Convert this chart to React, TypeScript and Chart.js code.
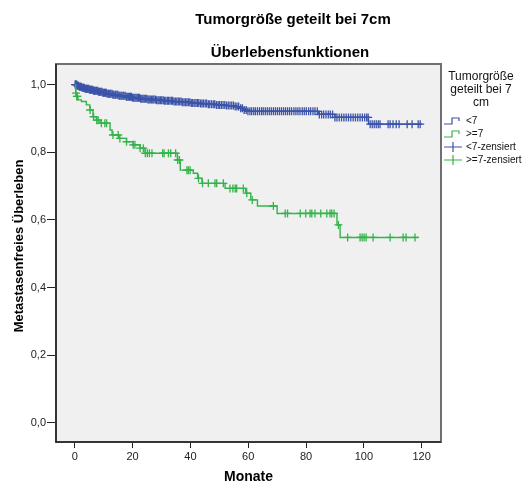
import React, { useEffect, useRef } from "react";
import { Chart, registerables } from "chart.js";

Chart.register(...registerables);

// ---- Data ----
const xTicks = [0, 20, 40, 60, 80, 100, 120];
const yTicks = [0, 0.2, 0.4, 0.6, 0.8, 1.0];

// Group "<7": event times and survival after each event
const blueTimes = [0, 0.8, 1.5, 2.5, 3.5, 5, 6.5, 8, 9.5, 11, 13, 15, 17.5, 20, 22.5, 25, 28, 31, 34, 37, 40, 43, 46, 49, 52, 55, 57, 58.5, 59.5, 84.3, 90, 101.6, 120];
const blueSurv = [1.0, 0.997, 0.994, 0.991, 0.988, 0.985, 0.982, 0.979, 0.976, 0.973, 0.97, 0.967, 0.964, 0.961, 0.958, 0.956, 0.954, 0.952, 0.95, 0.948, 0.946, 0.944, 0.942, 0.94, 0.938, 0.935, 0.93, 0.925, 0.921, 0.912, 0.903, 0.883, 0.883];
const blueCensored = [
  0.1, 0.3, 0.5, 0.7, 0.9, 1.1, 1.3, 1.6, 1.8, 2.0, 2.3, 2.5, 2.8, 3.0, 3.3, 3.5, 3.8, 4.1, 4.3, 4.6, 4.9, 5.1, 5.4, 5.7, 5.9, 6.2, 6.5, 6.8, 7.0, 7.3, 7.6, 7.9, 8.2, 8.5, 8.8, 9.1, 9.4, 9.7,
  10.0, 10.3, 10.6, 10.9, 11.2, 11.6, 11.9, 12.2, 12.5, 12.9, 13.2, 13.5, 13.9, 14.2, 14.6, 14.9, 15.3, 15.6, 16.0, 16.3, 16.7, 17.0, 17.4, 17.8, 18.1, 18.5, 18.9, 19.3, 19.6,
  20.0, 20.4, 20.8, 21.2, 21.6, 22.0, 22.4, 22.8, 23.2, 23.6, 24.0, 24.4, 24.9, 25.3, 25.7, 26.1, 26.6, 27.0, 27.4, 27.9, 28.3, 28.8, 29.2, 29.7, 30.1, 30.6, 31.0, 31.5, 32.0, 32.4, 32.9, 33.4, 33.8, 34.3, 34.8, 35.3, 35.8, 36.3, 36.8, 37.3, 37.8, 38.3, 38.8, 39.3, 39.8,
  40.3, 40.8, 41.3, 41.9, 42.4, 42.9, 43.5, 44.0, 44.5, 45.1, 45.6, 46.2, 46.7, 47.3, 47.9, 48.4, 49.0, 49.6, 50.1, 50.7, 51.3, 51.9, 52.5, 53.1, 53.7, 54.3, 54.9, 55.5, 56.1, 56.7, 57.4, 58.0, 58.6, 59.3, 59.9,
  60.6, 61.2, 61.9, 62.5, 63.2, 63.9, 64.6, 65.2, 65.9, 66.6, 67.3, 68.0, 68.7, 69.4, 70.1, 70.8, 71.5, 72.2, 72.9, 73.6, 74.3, 75.0, 75.8, 76.5, 77.2, 77.9, 78.7, 79.4, 80.1, 80.9, 81.6, 82.4, 83.1, 83.9, 84.6, 85.4, 86.1, 86.9, 87.7, 88.4, 89.2, 90.0, 90.7, 91.5, 92.3, 93.1, 93.9, 94.7, 95.5, 96.3, 97.1, 97.9, 98.7, 99.5, 100.3,
  101.0, 101.5, 102.2, 102.9, 103.6, 104.3, 105.0, 105.6, 108.4, 109.1, 110.1, 111.2, 112.2, 115.0, 116.7, 118.8, 119.5,
];

// Group ">=7"
const greenTimes = [0, 0.3, 0.55, 1.1, 2.3, 4, 5.2, 6.3, 7.5, 8.7, 12.2, 12.9, 15.2, 17.9, 20.2, 22.6, 24.3, 35.5, 36.5, 41, 42.5, 44, 52, 59.1, 60.9, 63.2, 70, 90.7, 91.8, 118.9];
const greenSurv = [1.0, 0.975, 0.965, 0.955, 0.95, 0.94, 0.925, 0.905, 0.895, 0.886, 0.866, 0.851, 0.841, 0.831, 0.822, 0.812, 0.797, 0.777, 0.747, 0.738, 0.723, 0.708, 0.693, 0.679, 0.659, 0.641, 0.619, 0.585, 0.548, 0.548];
const greenCensored = [0.4, 0.7, 0.9, 5.3, 6.5, 7.6, 8.1, 9.2, 10.4, 11, 13.2, 15, 15.6, 17.9, 20.2, 20.8, 22.6, 23.7, 24.4, 25.1, 25.8, 26.7, 30.4, 30.9, 32.4, 33.2, 34.9, 35.6, 36.2, 38.8, 39.3, 39.9, 42.8, 44.2, 46.2, 48.5, 49.1, 51.4, 53.7, 54.7, 55.5, 56, 58.3, 59.5, 61.4, 68.7, 72.8, 73.6, 78, 79.9, 81.4, 82, 83.1, 85.1, 87.2, 88.3, 88.9, 89.7, 91.2, 94.4, 98.7, 99.4, 100.1, 100.8, 103.2, 109.1, 113.6, 114.6, 117.7];

const seriesLabels = ["<7", ">=7", "<7-zensiert", ">=7-zensiert"];
const legendTitle = ["Tumorgröße", "geteilt bei 7", "cm"];
const titleLines = ["Tumorgröße geteilt bei 7cm", "Überlebensfunktionen"];
const xTitle = "Monate";
const yTitle = "Metastasenfreies Überleben";

const BLUE = "#3b53a8";
const GREEN = "#33b44a";
const FONT = "'Liberation Sans', Arial, sans-serif";

function survAt(times: number[], surv: number[], t: number) {
  let s = surv[0];
  for (let i = 0; i < times.length; i++) if (times[i] <= t) s = surv[i];
  return s;
}

const decorPlugin = {
  id: "decor",
  beforeDatasetsDraw(chart: any) {
    const { ctx, chartArea: a } = chart;
    ctx.save();
    ctx.fillStyle = "#f0f0f0";
    ctx.fillRect(a.left, a.top, a.right - a.left, a.bottom - a.top);
    ctx.restore();
  },
  afterDraw(chart: any) {
    const { ctx, chartArea: a } = chart;
    ctx.save();
    // frame
    ctx.strokeStyle = "#707070";
    ctx.lineWidth = 2;
    ctx.strokeRect(a.left, a.top, a.right - a.left, a.bottom - a.top);
    ctx.strokeStyle = "#222";
    ctx.lineWidth = 1.5;
    ctx.beginPath();
    ctx.moveTo(a.left, a.top);
    ctx.lineTo(a.left, a.bottom);
    ctx.lineTo(a.right, a.bottom);
    ctx.stroke();

    // titles
    ctx.fillStyle = "#000";
    ctx.textAlign = "center";
    ctx.textBaseline = "middle";
    ctx.font = `bold 15px ${FONT}`;
    ctx.fillText(titleLines[0], 293, 20);
    ctx.fillText(titleLines[1], 290, 53);
    ctx.font = `bold 14px ${FONT}`;
    ctx.fillText(xTitle, (a.left + a.right) / 2, 477);
    ctx.save();
    ctx.translate(19, 246);
    ctx.rotate(-Math.PI / 2);
    ctx.font = `bold 13px ${FONT}`;
    ctx.fillText(yTitle, 0, 0);
    ctx.restore();

    // legend
    ctx.font = `12px ${FONT}`;
    ctx.fillStyle = "#111";
    legendTitle.forEach((t, i) => ctx.fillText(t, 481, 77 + i * 13));
    ctx.textAlign = "left";
    ctx.font = `10px ${FONT}`;
    const colors = [BLUE, GREEN, BLUE, GREEN];
    seriesLabels.forEach((lab, i) => {
      const y = 121 + i * 13;
      ctx.strokeStyle = colors[i];
      ctx.lineWidth = 1.2;
      ctx.beginPath();
      if (i < 2) {
        ctx.moveTo(444, y + 3);
        ctx.lineTo(452, y + 3);
        ctx.lineTo(452, y - 3);
        ctx.lineTo(459, y - 3);
        ctx.lineTo(459, y);
      } else {
        ctx.moveTo(444, y);
        ctx.lineTo(462, y);
        ctx.moveTo(453, y - 5);
        ctx.lineTo(453, y + 5);
      }
      ctx.stroke();
      ctx.fillStyle = "#111";
      ctx.fillText(lab, 466, y);
    });
    ctx.restore();
  },
};

export default function App() {
  const ref = useRef<HTMLCanvasElement>(null);
  useEffect(() => {
    if (!ref.current) return;
    const toPts = (ts: number[], ss: number[]) => ts.map((t, i) => ({ x: t, y: ss[i] }));
    const cens = (c: number[], ts: number[], ss: number[]) => c.map((t) => ({ x: t, y: survAt(ts, ss, t) }));
    const chart = new Chart(ref.current, {
      type: "scatter",
      data: {
        datasets: [
          { label: seriesLabels[1], data: toPts(greenTimes, greenSurv), showLine: true, stepped: "before", borderColor: GREEN, borderWidth: 1.4, pointRadius: 0 } as any,
          { label: seriesLabels[3], data: cens(greenCensored, greenTimes, greenSurv), showLine: false, pointStyle: "cross", pointRadius: 4, borderColor: GREEN, backgroundColor: GREEN, pointBorderWidth: 1.3 } as any,
          { label: seriesLabels[0], data: toPts(blueTimes, blueSurv), showLine: true, stepped: "before", borderColor: BLUE, borderWidth: 1.4, pointRadius: 0 } as any,
          { label: seriesLabels[2], data: cens(blueCensored, blueTimes, blueSurv), showLine: false, pointStyle: "cross", pointRadius: 4, borderColor: BLUE, backgroundColor: BLUE, pointBorderWidth: 1.3 } as any,
        ],
      },
      options: {
        animation: false,
        responsive: false,
        devicePixelRatio: 1,
        layout: { padding: { top: 64, right: 83, left: 0, bottom: 0 } },
        plugins: { legend: { display: false }, tooltip: { enabled: false }, title: { display: false } },
        scales: {
          x: {
            type: "linear",
            min: -6.5,
            max: 126.7,
            afterBuildTicks: (s: any) => { s.ticks = xTicks.map((v) => ({ value: v })); },
            afterFit: (s: any) => { s.height = 42; },
            grid: { drawOnChartArea: false, tickLength: 6, color: "#222", lineWidth: 1 },
            border: { display: false },
            ticks: { color: "#222", font: { family: FONT, size: 11 }, padding: 2, maxRotation: 0, callback: (v: any) => String(v) },
          },
          y: {
            type: "linear",
            min: -0.057,
            max: 1.061,
            afterBuildTicks: (s: any) => { s.ticks = yTicks.map((v) => ({ value: v })); },
            afterFit: (s: any) => { s.width = 56; },
            grid: { drawOnChartArea: false, tickLength: 9, color: "#222", lineWidth: 1 },
            border: { display: false },
            ticks: { color: "#222", font: { family: FONT, size: 11 }, padding: 1, callback: (v: any) => Number(v).toFixed(1).replace(".", ",") },
          },
        },
      },
      plugins: [decorPlugin],
    });
    return () => chart.destroy();
  }, []);
  return (
    <div style={{ position: "fixed", left: 0, top: 0, width: 524, height: 484, background: "#fff" }}>
      <canvas ref={ref} width={524} height={484} style={{ display: "block", width: 524, height: 484 }} />
    </div>
  );
}
